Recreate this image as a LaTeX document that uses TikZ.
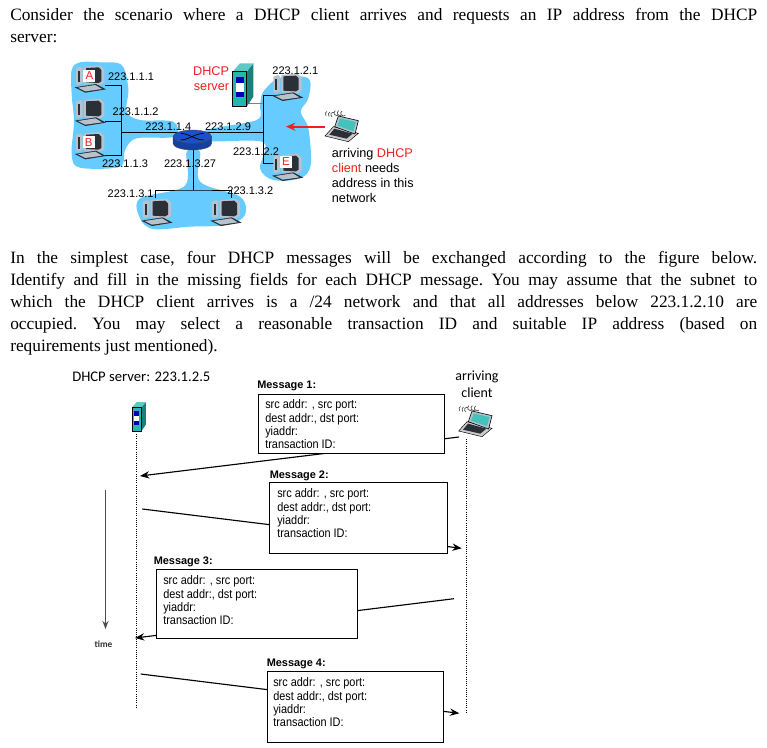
\documentclass[tikz,border=0pt]{standalone}
\usepackage{fontspec}
\setmainfont{Liberation Serif}
\newfontfamily\arialf{Liberation Sans}
\newfontfamily\msgf[FakeStretch=0.88]{Liberation Sans}
\newfontfamily\calibf{Carlito}
\usetikzlibrary{arrows.meta,calc}
\definecolor{netblue}{HTML}{66CCFF}
\definecolor{srvteal}{HTML}{22B8B0}
\definecolor{pcdark}{HTML}{2A2F38}
\definecolor{pcgray}{HTML}{B8C2CC}
\definecolor{routerblue}{HTML}{1A50C8}
\definecolor{labelred}{HTML}{F02020}
\tikzset{
  bodyline/.style={anchor=base west,inner sep=0pt,font=\frenchspacing\fontsize{13}{15}\selectfont},
  iplabel/.style={inner sep=0pt,font=\arialf\fontsize{8.25}{10}\selectfont},
  netlink/.style={draw=black,line width=.55pt},
  blob/.style={fill=netblue,draw=none},
  msgbox/.style={draw=black,fill=white,line width=.8pt,inner sep=0pt,anchor=north west},
  msgtext/.style={anchor=north west,inner sep=0pt,align=left,font=\msgf\fontsize{9.3}{10}\selectfont},
  msgtitle/.style={anchor=west,inner sep=0pt,font=\arialf\bfseries\fontsize{8.2}{10}\selectfont},
  msgarrow/.style={draw=black,line width=.85pt,-{Stealth[length=7pt,width=5.5pt]}},
  lifeline/.style={draw=black,line width=.65pt,densely dotted},
  pcletter/.style={fill=white,text=labelred,inner sep=1.6pt,font=\arialf\fontsize{8.6}{10}\selectfont},
}
% all three icons are drawn in the units currently in force (about 3 units per image pixel)
\newcommand{\pcicon}[2]{\begin{scope}[shift={(#1,#2)}]
  \fill[pcgray] (0,5) -- (14,0) -- (20,5) -- (20,50) -- (6,55) -- (0,50) -- cycle;
  \fill[pcdark] (6,12) rectangle (12,46);
  \fill[pcgray] (24,0) -- (72,-4) -- (85,8) -- (85,48) -- (72,55) -- (24,52) -- cycle;
  \fill[pcdark] (30,4) -- (68,2) -- (76,10) -- (76,44) -- (68,49) -- (30,47) -- cycle;
  \fill[pcdark] (-4,62) -- (60,52) -- (90,68) -- (28,78) -- cycle;
  \fill[pcgray] (6,63) -- (58,55) -- (78,67) -- (28,74) -- cycle;
\end{scope}}
\newcommand{\srvicon}[2]{\begin{scope}[shift={(#1,#2)}]
  \fill[srvteal!70!black] (42,25) -- (62,0) -- (62,100) -- (42,130) -- cycle;
  \fill[srvteal!75!white] (0,25) -- (22,0) -- (62,0) -- (42,25) -- cycle;
  \filldraw[draw=black,line width=.3pt,fill=srvteal] (0,25) rectangle (42,130);
  \fill[blue!70!black] (9,40) rectangle (34,100);
  \fill[white] (9,60) rectangle (34,85);
\end{scope}}
\newcommand{\lapicon}[2]{\begin{scope}[shift={(#1,#2)}]
  \filldraw[draw=black,line width=.35pt,fill=gray!40] (5,78) -- (30,50) -- (105,70) -- (75,95) -- cycle;
  \fill[pcdark] (18,74) -- (33,56) -- (88,71) -- (70,86) -- cycle;
  \filldraw[draw=black,line width=.45pt,fill=pcgray] (34,50) -- (45,18) -- (105,32) -- (95,72) -- cycle;
  \fill[srvteal!85!white] (42,47) -- (50,25) -- (98,36) -- (90,64) -- cycle;
  \draw[gray!70!black,line width=.55pt]
     (8,18) arc[start angle=-220,end angle=-120,radius=9]
     (17,20) arc[start angle=-220,end angle=-120,radius=9]
     (26,20) arc[start angle=-240,end angle=-60,radius=7]
     (36,2) arc[start angle=-120,end angle=-320,radius=8]
     (46,2) arc[start angle=-120,end angle=-320,radius=8]
     (56,3) arc[start angle=-120,end angle=-320,radius=8];
\end{scope}}
\begin{document}
\begin{tikzpicture}[x=.75pt,y=-.75pt]
\useasboundingbox (0,0) rectangle (767,747);
\fill[white] (0,0) rectangle (767,747);
% body text
\node[bodyline] (p1a) at (10,20) {\makebox[560.25pt][s]{Consider the scenario where a DHCP client arrives and requests an IP address from the DHCP}};
\node[bodyline] (p1b) at (10,42) {server:};
\node[bodyline] (p2a) at (10,263) {\makebox[560.25pt][s]{In the simplest case, four DHCP messages will be exchanged according to the figure below.}};
\node[bodyline] (p2b) at (10,285) {\makebox[560.25pt][s]{Identify and fill in the missing fields for each DHCP message. You may assume that the subnet to}};
\node[bodyline] (p2c) at (10,307) {\makebox[560.25pt][s]{which the DHCP client arrives is a /24 network and that all addresses below 223.1.2.10 are}};
\node[bodyline] (p2d) at (10,329) {\makebox[560.25pt][s]{occupied. You may select a reasonable transaction ID and suitable IP address (based on}};
\node[bodyline] (p2e) at (10,351) {requirements just mentioned).};
% network figure (units: 3 per image pixel)
\begin{scope}[shift={(60,55)},x=.25pt,y=-.25pt]
  \fill[blob] plot[smooth cycle,tension=.55] coordinates {(35,45) (60,22) (120,22) (185,30) (205,100) (200,170) (240,195) (340,200) (345,245) (230,250) (195,285) (180,335) (60,338) (35,300) (42,200) (35,120)};
  \fill[blob] plot[smooth cycle,tension=.55] coordinates {(610,110) (660,68) (745,70) (745,130) (722,170) (745,220) (752,330) (720,370) (640,375) (600,340) (610,262) (450,258) (440,225) (590,195) (600,150)};
  \fill[blob] plot[smooth cycle,tension=.55] coordinates {(380,290) (420,290) (420,380) (540,425) (555,480) (500,510) (390,515) (280,522) (240,490) (240,430) (375,392)};
  \coordinate (hubL) at (185,232);
  \coordinate (hubR) at (610,232);
  \coordinate (hubB) at (400,405);
  \coordinate (pcA) at (135,90);
  \coordinate (pcM) at (135,198);
  \coordinate (pcB) at (135,300);
  \coordinate (pcT) at (650,120);
  \coordinate (pcE) at (650,325);
  \coordinate (pcL) at (285,430);
  \coordinate (pcS) at (515,430);
  \coordinate (srvport) at (555,145);
  \draw[netlink] (pcA) -| (hubL);
  \draw[netlink] (pcB) -| (hubL);
  \draw[netlink] (pcM) -- (pcM -| hubL);
  \draw[netlink] (pcT) -| (hubR);
  \draw[netlink] (pcE) -| (hubR);
  \draw[gray,line width=.7pt] (srvport) -- (srvport -| hubR);
  \draw[netlink] (pcL) |- (hubB) -| (pcS);
  % router
  \coordinate (rtr) at (397,245);
  \coordinate (rtrL) at (339,245);
  \draw[netlink] (hubL) -- (hubL -| rtr);
  \draw[netlink] (hubL -| rtr) -- (hubR);
  \draw[netlink] (hubB |- rtr) -- (hubB);
  \filldraw[draw=black!70,line width=.3pt,fill=routerblue!80!black] (rtrL) -- ++(0,20) arc[start angle=180,end angle=0,x radius=58,y radius=20] -- ++(0,-20) -- cycle;
  \filldraw[draw=black!70,line width=.3pt,fill=routerblue] (rtr) ellipse[x radius=58,y radius=20];
  \draw[black,line width=.5pt] (362,235) .. controls (385,235) and (405,255) .. (432,255);
  \draw[black,line width=.5pt] (362,255) .. controls (385,255) and (405,235) .. (432,235);
  % machines
  \pcicon{48}{35}
  \pcicon{48}{135}
  \pcicon{48}{235}
  \pcicon{640}{60}
  \pcicon{640}{300}
  \pcicon{248}{435}
  \pcicon{455}{435}
  \node[pcletter] (ltA) at (88,62) {A};
  \node[pcletter] (ltB) at (86,262) {B};
  \node[pcletter] (ltE) at (678,320) {E};
  \srvicon{518}{25}
  \lapicon{790}{165}
  \coordinate (lapport) at (795,215);
  \coordinate (redtip) at (678,215);
  \draw[labelred,line width=1.3pt,-{Stealth[length=7pt,width=6pt]}] (lapport) -- (redtip);
  % addresses
  \node[iplabel] (a1) at (213,66) {223.1.1.1};
  \node[iplabel] (a2) at (227,170) {223.1.1.2};
  \node[iplabel] (a3) at (325,216) {223.1.1.4};
  \node[iplabel] (a4) at (504,216) {223.1.2.9};
  \node[iplabel] (a5) at (195,325) {223.1.1.3};
  \node[iplabel] (a6) at (390,325) {223.1.3.27};
  \node[iplabel] (a7) at (212,415) {223.1.3.1};
  \node[iplabel] (a8) at (571,408) {223.1.3.2};
  \node[iplabel] (a9) at (588,291) {223.1.2.2};
  \node[iplabel] (a10) at (706,46) {223.1.2.1};
  \node[anchor=north east,inner sep=0pt,align=right,text=labelred,font=\arialf\fontsize{9.5}{11.4}\selectfont] (srvlabel) at (508,34) {DHCP\\server};
  \node[anchor=north west,inner sep=0pt,align=left,font=\arialf\fontsize{9.5}{11.3}\selectfont] (arrlabel) at (815,279) {arriving \textcolor{labelred}{DHCP}\\\textcolor{labelred}{client} needs\\address in this\\network};
\end{scope}
% sequence diagram
\node[anchor=west,inner sep=0pt,font=\calibf\fontsize{11}{13}\selectfont] (srvhead) at (72,377) {DHCP server: 223.1.2.5};
\node[anchor=north,inner sep=0pt,align=center,font=\calibf\fontsize{10.5}{12.6}\selectfont] (clihead) at (477,371) {arriving\\client};
\begin{scope}[shift={(131.7,402)},x=.17pt,y=-.17pt]
  \srvicon{0}{0}
\end{scope}
\begin{scope}[shift={(457,405)},x=.25pt,y=-.25pt]
  \lapicon{0}{0}
\end{scope}
\coordinate (lifeS0) at (136.3,434);
\coordinate (lifeS1) at (136.3,708);
\coordinate (lifeC0) at (466.3,439);
\coordinate (lifeC1) at (466.3,713);
\draw[lifeline] (lifeS0) -- (lifeS1);
\draw[lifeline] (lifeC0) -- (lifeC1);
\coordinate (t0) at (105.5,490);
\coordinate (t1) at (105.5,629);
\draw[draw=black!70,line width=1pt,-{Stealth[length=6pt,width=4.5pt]}] (t0) -- (t1);
\node[inner sep=0pt,font=\calibf\bfseries\fontsize{7}{8}\selectfont,text=black!80] (timelabel) at (103.5,644) {time};
% message arrows run behind their boxes
\coordinate (m1a) at (459,437);
\coordinate (m1b) at (140,476);
\coordinate (m2a) at (142.3,509);
\coordinate (m2b) at (461.7,548.3);
\coordinate (m3a) at (454,598.7);
\coordinate (m3b) at (135,638);
\coordinate (m4a) at (140.7,674);
\coordinate (m4b) at (459.3,713.3);
\draw[msgarrow] (m1a) -- (m1b);
\draw[msgarrow] (m2a) -- (m2b);
\draw[msgarrow] (m3a) -- (m3b);
\draw[msgarrow] (m4a) -- (m4b);
\node[msgbox,minimum width=140pt,minimum height=44.2pt] (box1) at (257.7,394.3) {};
\node[msgbox,minimum width=133pt,minimum height=53.2pt] (box2) at (269.3,482.3) {};
\node[msgbox,minimum width=150.3pt,minimum height=51.8pt] (box3) at (156.3,569.3) {};
\node[msgbox,minimum width=132pt,minimum height=53pt] (box4) at (266.7,671.3) {};
\node[msgtitle] (title1) at (257,386) {Message 1:};
\node[msgtitle] (title2) at (269.5,476) {Message 2:};
\node[msgtitle] (title3) at (153.5,562) {Message 3:};
\node[msgtitle] (title4) at (266.5,664) {Message 4:};
\node[msgtext] (text1) at (265,399.5) {src addr: , src port:\\dest addr:, dst port:\\yiaddr:\\transaction ID:};
\node[msgtext] (text2) at (277,488.5) {src addr: , src port:\\dest addr:, dst port:\\yiaddr:\\transaction ID:};
\node[msgtext] (text3) at (163,575.5) {src addr: , src port:\\dest addr:, dst port:\\yiaddr:\\transaction ID:};
\node[msgtext] (text4) at (273,677.5) {src addr: , src port:\\dest addr:, dst port:\\yiaddr:\\transaction ID:};
\end{tikzpicture}
\end{document}
